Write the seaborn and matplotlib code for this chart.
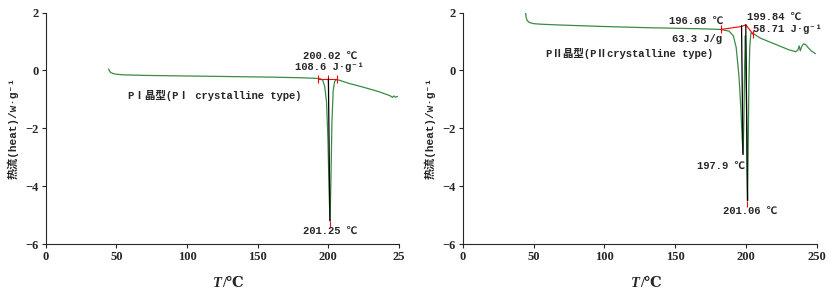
import numpy as np
import pandas as pd
import matplotlib
matplotlib.use('Agg')
import matplotlib.pyplot as plt
import seaborn as sns

# DSC curve, PI crystalline type
t_p1 = [44.5, 45, 46, 48, 50, 55, 70, 100, 130, 160, 180, 190, 194, 196, 197.5, 198.8,
        199.8, 200.6, 201.25, 201.9, 202.6, 203.5, 204.5, 206, 208, 215, 225, 235,
        242, 244, 245.5, 246.5, 247.5, 249]
h_p1 = [0.05, 0.0, -0.07, -0.11, -0.13, -0.15, -0.17, -0.19, -0.21, -0.23, -0.25, -0.27,
        -0.28, -0.33, -0.55, -1.1, -2.4, -4.2, -5.2, -3.8, -1.8, -0.7, -0.38, -0.31,
        -0.34, -0.45, -0.58, -0.72, -0.84, -0.88, -0.93, -0.88, -0.92, -0.9]

# DSC curve, PII crystalline type
t_p2 = [44.3, 44.6, 45.5, 47, 50, 55, 70, 100, 130, 150, 170, 182, 188, 191, 193, 195,
        196.3, 197.2, 197.9, 198.5, 199.0, 199.5, 200.2, 200.7, 201.06, 201.5, 202.0,
        202.6, 203.4, 205, 210, 220, 230, 235, 236.5, 237.5, 238.3, 239.2, 240.5,
        242, 244, 246, 249]
h_p2 = [2.0, 1.85, 1.72, 1.66, 1.62, 1.6, 1.57, 1.52, 1.48, 1.46, 1.44, 1.42, 1.36, 1.2,
        0.8, -0.2, -1.3, -2.3, -2.9, -1.6, 0.2, 1.2, -0.8, -3.0, -4.5, -2.6, -0.4,
        0.8, 1.3, 1.28, 1.12, 0.92, 0.72, 0.65, 0.7, 0.85, 0.68, 0.82, 0.92, 0.9,
        0.78, 0.68, 0.58]

# red integration baselines
base_t1 = [193, 200.02, 206.4]
base_h1 = [-0.29, -0.29, -0.29]
base_t2 = [182.4, 196.68, 199.84, 205]
base_h2 = [1.42, 1.52, 1.58, 1.25]

# black onset-to-peak guide lines
guide_t1 = [200.1, 201.2]
guide_h1 = [-0.29, -5.2]
guide_t2a = [196.8, 197.8]
guide_h2a = [1.55, -2.9]
guide_t2b = [199.8, 201.0]
guide_h2b = [1.58, -4.5]

xticks = [0, 50, 100, 150, 200, 250]
xlabels1 = ['0', '50', '100', '150', '200', '25']
xlabels2 = ['0', '50', '100', '150', '200', '250']
yticks = [-6, -4, -2, 0, 2]

df1 = pd.DataFrame({'T': t_p1, 'H': h_p1})
df2 = pd.DataFrame({'T': t_p2, 'H': h_p2})

sns.set_style('ticks')
plt.rcParams['font.family'] = ['Liberation Serif', 'DejaVu Serif', 'Noto Sans CJK SC']
plt.rcParams['font.weight'] = 'bold'
mono = ['Liberation Mono', 'DejaVu Sans Mono', 'Noto Sans CJK SC']

green = '#3b8a45'
fs = 9
fa = 7.6

fig = plt.figure(figsize=(8.31, 2.94), dpi=100)
ax1 = fig.add_axes([0.055, 0.170, 0.425, 0.787])
ax2 = fig.add_axes([0.557, 0.170, 0.426, 0.787])

sns.lineplot(data=df1, x='T', y='H', ax=ax1, color=green, lw=0.9, sort=False)
sns.lineplot(data=df2, x='T', y='H', ax=ax2, color=green, lw=0.9, sort=False)

# baselines and guides
ax1.plot(base_t1, base_h1, color='red', lw=0.8, marker='|', ms=6, mew=0.8)
ax1.plot(guide_t1, guide_h1, color='black', lw=0.9)
ax1.plot([guide_t1[1]], [guide_h1[1] - 0.12], color='red', marker='|', ms=5, mew=0.8)
ax2.plot(base_t2, base_h2, color='red', lw=0.8)
ax2.plot([base_t2[0], base_t2[-1]], [base_h2[0], base_h2[-1]], ls='none',
         color='red', marker='|', ms=6, mew=0.8)
ax2.plot(guide_t2a, guide_h2a, color='black', lw=0.9)
ax2.plot(guide_t2b, guide_h2b, color='black', lw=0.9)
ax2.plot([guide_t2b[1]], [guide_h2b[1] - 0.12], color='red', marker='|', ms=5, mew=0.8)

for ax, xl in ((ax1, xlabels1), (ax2, xlabels2)):
    ax.set_xlim(0, 250)
    ax.set_ylim(-6, 2)
    ax.set_xticks(xticks)
    ax.set_xticklabels(xl)
    ax.set_yticks(yticks)
    ax.tick_params(labelsize=fs, length=3, width=0.8, pad=2)
    ax.set_xlabel('')
    ax.set_ylabel('热流(heat)/w·g⁻¹', fontsize=8, family=mono,
                  fontweight='bold', labelpad=5)
    ax.text(0.5, -0.17, 'T', transform=ax.transAxes, fontsize=10.5,
            style='italic', ha='right', va='center')
    ax.text(0.5, -0.17, '/℃', transform=ax.transAxes, fontsize=10.5,
            ha='left', va='center')
    sns.despine(ax=ax)
    for s in ('left', 'bottom'):
        ax.spines[s].set_linewidth(0.8)

kw = dict(fontsize=fa, family=mono, fontweight='bold', va='center')

# annotations, PI
ax1.text(201, 0.5, '200.02 ℃', ha='center', **kw)
ax1.text(201, 0.12, '108.6 J·g⁻¹', ha='center', **kw)
ax1.text(58, -0.85, 'PⅠ晶型(PⅠ crystalline type)', ha='left', **kw)
ax1.text(201, -5.55, '201.25 ℃', ha='center', **kw)

# annotations, PII
ax2.text(184, 1.7, '196.68 ℃', ha='right', **kw)
ax2.text(183, 1.1, '63.3 J/g', ha='right', **kw)
ax2.text(201, 1.87, '199.84 ℃', ha='left', **kw)
ax2.text(205, 1.45, '58.71 J·g⁻¹', ha='left', **kw)
ax2.text(59, 0.6, 'PⅡ晶型(PⅡcrystalline type)', ha='left', **kw)
ax2.text(199, -3.3, '197.9 ℃', ha='right', **kw)
ax2.text(203, -4.85, '201.06 ℃', ha='center', **kw)

fig.savefig('out.png', dpi=100)
